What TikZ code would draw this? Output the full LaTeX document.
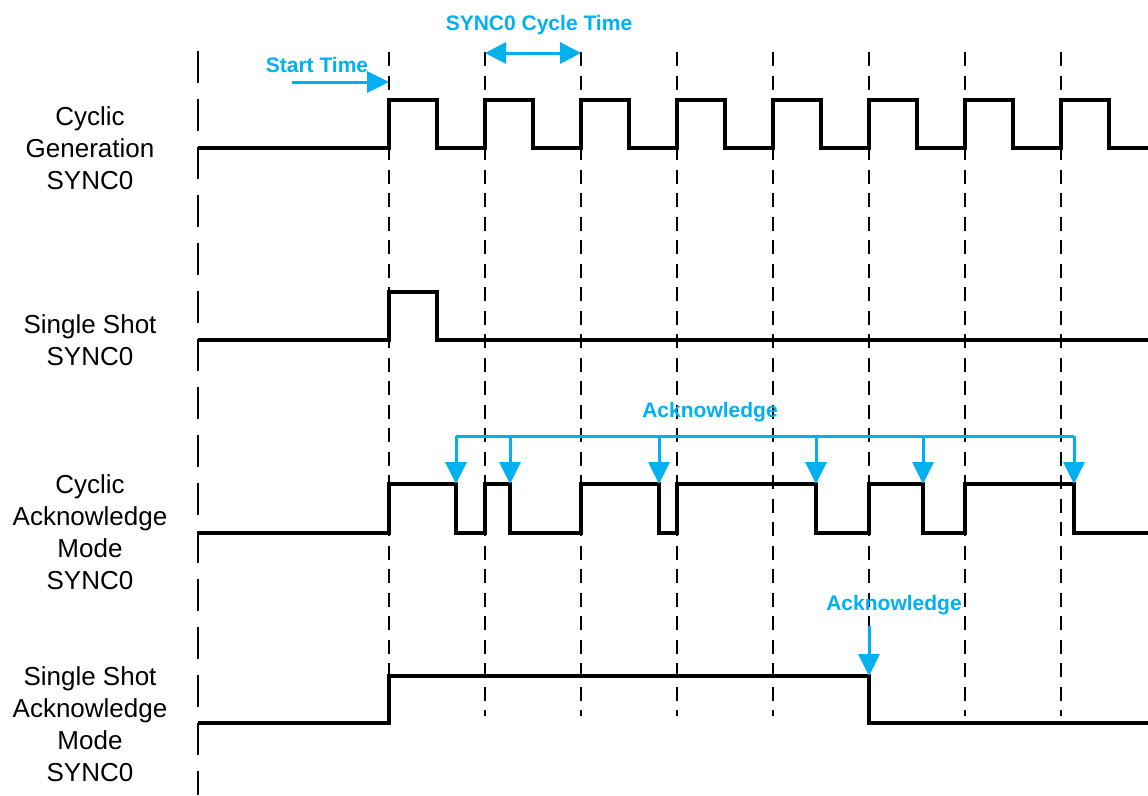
\documentclass[tikz,border=0pt]{standalone}
\usepackage{fontspec}
\setmainfont{Liberation Sans}
\usetikzlibrary{arrows.meta}
\definecolor{ackblue}{HTML}{00B0F0}
\begin{document}
\begin{tikzpicture}[x=1pt,y=-1pt,
  sig/.style={line width=3.2pt,line join=miter},
  tick/.style={line width=1.8pt,dash pattern=on 14pt off 9.5pt},
  note/.style={text=ackblue,font=\bfseries\fontsize{21}{23}\selectfont,inner sep=1pt},
  tag/.style={align=center,font=\fontsize{26}{32}\selectfont,inner sep=0pt},
  blue/.style={draw=ackblue,line width=3pt},
  tip/.style={-{Triangle[width=21pt,length=22pt]}}]
\useasboundingbox (0,0) rectangle (1148,795);
% time grid
\draw[line width=1.8pt,dash pattern=on 32pt off 16pt] (198,51) -- (198,795);
\foreach \t in {389,485,...,1061}{
  \draw[tick] (\t,52) -- (\t,716);
}
% row labels
\node[tag] (gen)   at (90,148) {Cyclic\\Generation\\SYNC0};
\node[tag] (shot)  at (90,340) {Single Shot\\SYNC0};
\node[tag] (cack)  at (90,532) {Cyclic\\Acknowledge\\Mode\\SYNC0};
\node[tag] (sack)  at (90,724) {Single Shot\\Acknowledge\\Mode\\SYNC0};
% cyclic generation
\draw[sig] (198,148) foreach \t in {389,485,...,1061}{
  -- (\t,148) -- (\t,100) -- (\t+48,100) -- (\t+48,148)} -- (1148,148);
% single shot
\draw[sig] (198,340) -| (389,292) -| (437,340) -- (1148,340);
% cyclic acknowledge
\draw[sig] (198,533) -| (389,484) -| (456,533) -| (485,484) -| (510,533)
  -| (581,484) -| (659,533) -| (677,484) -| (816,533) -| (869,484)
  -| (923,533) -| (965,484) -| (1074,533) -- (1148,533);
% single shot acknowledge
\draw[sig] (198,723) -| (389,676) -| (869,723) -- (1148,723);
% start time
\node[note] (start) at (317,65) {Start Time};
\coordinate (s0) at (292,82);
\coordinate (s1) at (389,82);
\draw[blue,tip] (s0) -- (s1);
% cycle time
\node[note] (cycle) at (539,25) {SYNC0 Cycle Time};
\coordinate (c0) at (485,53);
\coordinate (c1) at (581,53);
\draw[blue,{Triangle[width=21pt,length=21pt]}-{Triangle[width=21pt,length=21pt]}] (c0) -- (c1);
% acknowledge bus
\node[note] (ack) at (710,412) {Acknowledge};
\coordinate (b0) at (456,436);
\coordinate (b1) at (1074,436);
\draw[blue] (b0) -- (b1);
\foreach \t in {456,510,659,816,923,1074}{
  \draw[blue,tip] (\t,436) -- (\t,484);
}
% single acknowledge
\node[note] (ack2) at (894,605) {Acknowledge};
\coordinate (a0) at (869,626);
\coordinate (a1) at (869,676);
\draw[blue,tip] (a0) -- (a1);
\end{tikzpicture}
\end{document}
